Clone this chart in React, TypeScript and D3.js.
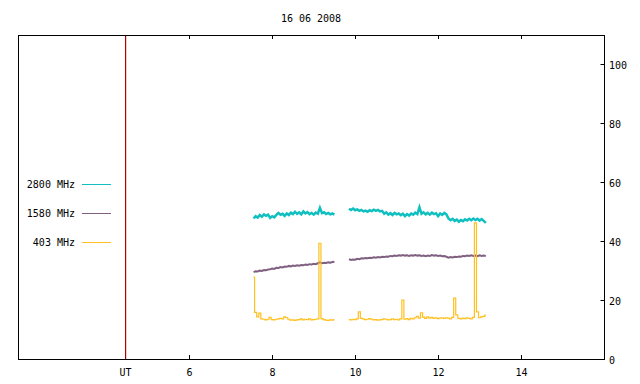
import * as d3 from 'd3';

// sampling of the two observing segments (hours UT)
const seg1Start = 7.55;
const seg2Start = 9.85;
const step = 0.05;

const f2800a = [
  47.7, 48.5, 48.0, 48.9, 48.3, 49.1, 48.6, 49.0, 47.9, 48.5,
  48.1, 48.9, 49.6, 49.0, 49.3, 48.6, 49.4, 48.9, 49.7, 49.2,
  50.0, 49.3, 49.8, 49.1, 50.1, 49.4, 49.9, 49.2, 49.6, 49.0,
  49.7, 49.3, 51.3, 49.5, 49.8, 49.2, 49.6, 49.1, 49.4, 49.0,
];
const f2800b = [
  51.0, 50.6, 51.1, 50.5, 50.8, 50.3, 50.6, 50.1, 50.4, 50.0,
  50.5, 50.2, 50.7, 50.3, 50.6, 50.1, 50.3,
  49.3, 49.8, 49.0, 49.5, 48.9, 49.6, 49.1, 49.4, 48.8, 49.3,
  48.5, 49.2, 48.7, 49.4, 49.0, 49.7, 49.2, 51.5,
  49.3, 49.8, 49.1, 49.6, 49.0, 49.7, 49.2, 49.5, 48.5, 49.4,
  48.9, 49.6, 49.1,
  47.7, 47.1, 47.6, 46.9, 47.3, 46.6, 47.2, 46.8, 47.4, 47.0,
  47.6, 47.1, 47.7, 47.2, 47.6, 47.0, 47.5, 46.9, 46.2,
];

const f1580a = [
  29.5, 29.8, 29.7, 30.0, 29.9, 30.2, 30.1, 30.4, 30.5, 30.7,
  30.6, 31.0, 30.9, 31.2, 31.1, 31.4, 31.3, 31.6, 31.4, 31.7,
  31.6, 31.8, 31.7, 31.9, 31.8, 32.1, 31.9, 32.2, 32.1, 32.3,
  32.2, 32.5, 32.8, 32.5, 32.7, 32.6, 32.8, 32.7, 32.9, 33.0,
];
const f1580b = [
  33.9, 33.6, 33.8, 33.7, 34.0, 33.9, 34.2, 34.1, 34.3, 34.2,
  34.4, 34.3, 34.5, 34.4, 34.6, 34.5, 34.7, 34.6, 34.8, 34.7,
  35.0, 34.9, 35.1, 35.0, 35.2, 35.1, 35.3, 35.1, 35.2, 35.0,
  35.2, 35.1, 35.3, 35.1, 35.2, 35.0, 35.1, 34.9, 35.1, 35.0,
  35.3, 35.1, 35.2, 35.0, 35.1, 34.9, 35.0, 34.7, 34.4, 34.6,
  34.5, 34.7, 34.6, 34.8, 34.7, 35.0, 34.9, 35.1, 35.0, 35.2,
  35.0, 35.1, 34.9, 35.2, 35.0, 35.1, 35.0,
];

const f403a = [
  27.8, 15.8, 14.3, 15.6, 13.6, 13.5, 13.3, 13.5, 14.1, 13.4,
  13.3, 13.5, 13.6, 13.8, 13.6, 14.3, 14.0, 13.5, 13.2, 13.3,
  13.1, 13.3, 13.4, 13.6, 13.3, 13.5, 13.4, 13.6, 13.3, 13.4,
  13.5, 13.6, 39.3, 13.7, 13.4, 13.2, 13.1, 13.3, 13.2, 13.4,
];
const f403b = [
  13.4, 13.3, 13.5, 13.4, 13.6, 16.0, 13.8, 13.6, 13.4, 13.5,
  13.7, 13.5, 13.3, 13.4, 13.2, 13.3, 13.4, 13.6, 13.5, 13.3,
  13.4, 13.6, 13.4, 13.5, 13.3, 13.6, 20.0, 13.5, 13.7, 13.4,
  13.8, 13.6, 14.0, 14.5, 13.9, 15.7, 14.2, 13.8, 14.3, 13.9,
  14.1, 13.8, 14.0, 13.7, 13.9, 14.0, 13.8, 14.0, 13.9, 13.6,
  14.1, 20.7, 15.0, 13.8, 13.6, 13.9, 13.7, 14.0, 13.8, 13.6,
  14.1, 46.2, 16.0, 14.0, 14.3, 14.5, 14.9,
];

const series = [
  { label: '2800 MHz', color: '#10c0c0', width: 2.5, step: false, a: f2800a, b: f2800b },
  { label: '1580 MHz', color: '#806080', width: 2, step: false, a: f1580a, b: f1580b },
  { label: '403 MHz', color: '#ffc020', width: 1.2, step: true, a: f403a, b: f403b },
];

const xTicks = [6, 8, 10, 12, 14];
const yTicks = [0, 20, 40, 60, 80, 100];
const utHour = 4.44;
const title = '16 06 2008';

const W = 640;
const H = 384;
const left = 18, right = 604, top = 35, bottom = 359;

const x = d3.scaleLinear().domain([1.87, 16]).range([left, right]);
const y = d3.scaleLinear().domain([0, 110]).range([bottom, top]);

const line = d3
  .line<[number, number]>()
  .x((d) => x(d[0]))
  .y((d) => y(d[1]));

const stepLine = d3
  .line<[number, number]>()
  .x((d) => x(d[0]))
  .y((d) => y(d[1]))
  .curve(d3.curveStep);

const toPts = (start: number, vals: number[]) =>
  vals.map((v, i) => [start + i * step, v] as [number, number]);

const font = '"DejaVu Sans Mono", monospace';

export default function App() {
  const utX = Math.round(x(utHour));
  return (
    <svg
      width={W}
      height={H}
      style={{ position: 'absolute', left: 0, top: 0, background: 'white' }}
      fontFamily={font}
      fontSize={10}
    >
      <text x={(left + right) / 2} y={22} textAnchor="middle" fill="#000">
        {title}
      </text>

      {/* data */}
      {series.map((s) => {
        const gen = s.step ? stepLine : line;
        return (
          <g key={s.label} fill="none" stroke={s.color} strokeWidth={s.width}>
            <path d={gen(toPts(seg1Start, s.a)) || ''} />
            <path d={gen(toPts(seg2Start, s.b)) || ''} />
          </g>
        );
      })}

      {/* UT marker */}
      <rect x={utX} y={top} width={1.2} height={bottom - top} fill="#b00000" />

      {/* frame */}
      <rect
        x={left + 0.5}
        y={top + 0.5}
        width={right - left}
        height={bottom - top}
        fill="none"
        stroke="#000"
        strokeWidth={1}
      />

      {/* x ticks, top and bottom */}
      {xTicks.map((t) => {
        const px = Math.round(x(t)) + 0.5;
        return (
          <g key={t}>
            <line x1={px} x2={px} y1={bottom} y2={bottom - 4} stroke="#000" />
            <line x1={px} x2={px} y1={top} y2={top + 4} stroke="#000" />
            <text x={px} y={376} textAnchor="middle" fill="#000">
              {t}
            </text>
          </g>
        );
      })}
      <text x={utX + 0.5} y={376} textAnchor="middle" fill="#000">
        UT
      </text>

      {/* right y axis */}
      {yTicks.map((t) => {
        const py = Math.round(y(t)) + 0.5;
        return (
          <g key={t}>
            <line x1={right + 0.5} x2={right - 3.5} y1={py} y2={py} stroke="#000" />
            <text x={609} y={py + 4} fill="#000">
              {t}
            </text>
          </g>
        );
      })}

      {/* legend */}
      {series.map((s, i) => {
        const ly = 184 + i * 29;
        return (
          <g key={s.label}>
            <text x={75} y={ly + 4} textAnchor="end" fill="#000">
              {s.label}
            </text>
            <line x1={82} x2={111} y1={ly + 0.5} y2={ly + 0.5} stroke={s.color} />
          </g>
        );
      })}
    </svg>
  );
}
